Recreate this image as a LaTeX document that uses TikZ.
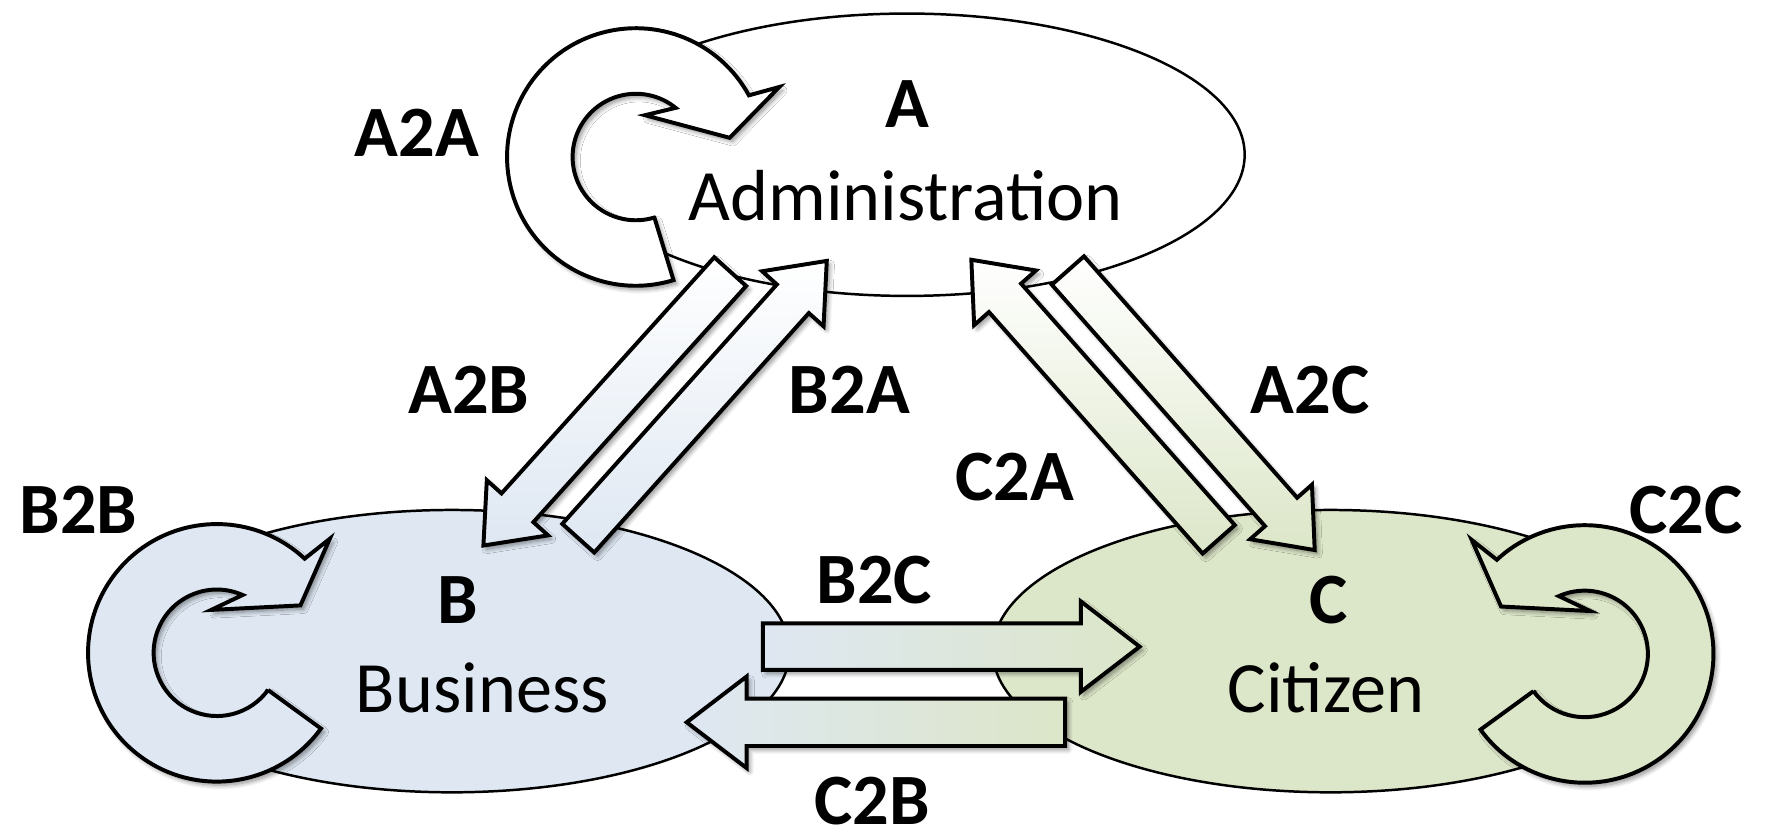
\documentclass[tikz,border=0pt]{standalone}
\usepackage{fontspec}
\setmainfont{Carlito}
\usetikzlibrary{shapes.geometric,calc,shadows.blur}

\definecolor{bizfill}{RGB}{222,231,242}
\definecolor{citfill}{RGB}{220,230,200}

% Block arrow from a tail coordinate to a tip coordinate.
% #1 style, #2 tail, #3 tip, #4 shaft half-width, #5 head half-width, #6 head length
\newcommand\blockarrow[6]{%
  \coordinate (ba-b) at ($(#3)!#6!(#2)$);
  \path[#1] ($(#2)!#4!90:(#3)$) -- ($(ba-b)!#4!-90:(#2)$) -- ($(ba-b)!#5!-90:(#2)$)
    -- (#3) -- ($(ba-b)!#5!90:(#2)$) -- ($(ba-b)!#4!90:(#2)$) -- ($(#2)!#4!-90:(#3)$) -- cycle;
}

\begin{document}
\begin{tikzpicture}[x=0.5pt,y=-0.5pt,
  party/.style={ellipse, draw=black, line width=1.1pt, minimum width=299pt,
    minimum height=125pt, inner sep=0pt},
  softshadow/.style={blur shadow={shadow xshift=1.4pt, shadow yshift=-1.6pt,
    shadow blur radius=2pt, shadow blur steps=8, shadow opacity=45}},
  ring/.style={draw=black, line width=1.75pt, line join=miter, softshadow},
  flow/.style={draw=black, line width=1.75pt, line join=miter, softshadow},
  caption/.style={font=\fontsize{32}{36}\selectfont, inner sep=0pt, anchor=base},
  tag/.style={font=\fontsize{32}{36}\selectfont\bfseries, inner sep=0pt, anchor=base}
]
\useasboundingbox (0,0) rectangle (1568,739);

% the three parties
\node[party, fill=white]   (A) at (803,137)   {};
\node[party, fill=bizfill] (B) at (400,576.5) {};
\node[party, fill=citfill] (C) at (1178,576.5) {};

% self loops
\begin{scope}[shift={(563,139)}]
  \path[ring, fill=white] (16.4,53.6) -- (33.3,109.0)
    arc[start angle=73, end angle=331.4, radius=114]
    -- (127,-62) -- (83,-17) -- (8,-37) -- (35.2,-43.5)
    arc[start angle=309, end angle=73, radius=56] -- cycle;
\end{scope}
\begin{scope}[shift={(192,578)}]
  \path[ring, fill=bizfill] (45.3,32.9) -- (92.2,67.0)
    arc[start angle=36, end angle=313, radius=114]
    -- (100,-101) -- (74,-42) -- (-5,-38) -- (22.8,-51.2)
    arc[start angle=294, end angle=36, radius=56] -- cycle;
\end{scope}
\begin{scope}[shift={(1403,579)}]
  \path[ring, fill=citfill] (-45.3,32.9) -- (-92.2,67.0)
    arc[start angle=144, end angle=-133, radius=114]
    -- (-100,-101) -- (-74,-42) -- (5,-38) -- (-22.8,-51.2)
    arc[start angle=-114, end angle=144, radius=56] -- cycle;
\end{scope}

% arrow end points
\coordinate (a2b-s) at (646.5,240.5);  \coordinate (a2b-e) at (428,483);
\coordinate (b2a-s) at (512,476.5);    \coordinate (b2a-e) at (732,231);
\coordinate (a2c-s) at (945.5,239.5);  \coordinate (a2c-e) at (1164,487);
\coordinate (c2a-s) at (1079,477.5);   \coordinate (c2a-e) at (860,230);
\coordinate (b2c-s) at (675.5,572.5);  \coordinate (b2c-e) at (1009,572.5);
\coordinate (c2b-s) at (943,639.5);    \coordinate (c2b-e) at (608,639.5);

% exchange arrows
\blockarrow{flow, top color=white, bottom color=bizfill}{a2b-s}{a2b-e}{9.5pt}{18.25pt}{22.5pt}
\blockarrow{flow, top color=white, bottom color=bizfill}{b2a-s}{b2a-e}{9.5pt}{18.25pt}{22.5pt}
\blockarrow{flow, top color=white, bottom color=citfill}{a2c-s}{a2c-e}{9.5pt}{18.25pt}{22.5pt}
\blockarrow{flow, top color=white, bottom color=citfill}{c2a-s}{c2a-e}{9.5pt}{18.25pt}{22.5pt}
\blockarrow{flow, left color=bizfill, right color=citfill}{b2c-s}{b2c-e}{10.25pt}{20pt}{26pt}
\blockarrow{flow, left color=bizfill, right color=citfill}{c2b-s}{c2b-e}{10.5pt}{20.25pt}{26.5pt}

% party names
\node[tag]     (A-key)  at (803,113)  {A};
\node[caption] (A-name) at (802,195)  {Administration};
\node[tag]     (B-key)  at (405,551.6) {B};
\node[caption] (B-name) at (427,631)  {Business};
\node[tag]     (C-key)  at (1176,552) {C};
\node[caption] (C-name) at (1174,631) {Citizen};

% relation labels
\node[tag] (l-a2a) at (369,139)   {A2A};
\node[tag] (l-b2b) at (69.5,472)  {B2B};
\node[tag] (l-c2c) at (1493,472)  {C2C};
\node[tag] (l-a2b) at (415,366)   {A2B};
\node[tag] (l-b2a) at (752,366)   {B2A};
\node[tag] (l-a2c) at (1160,366)  {A2C};
\node[tag] (l-c2a) at (898.5,443) {C2A};
\node[tag] (l-b2c) at (774,534)   {B2C};
\node[tag] (l-c2b) at (772,730)   {C2B};
\end{tikzpicture}
\end{document}
